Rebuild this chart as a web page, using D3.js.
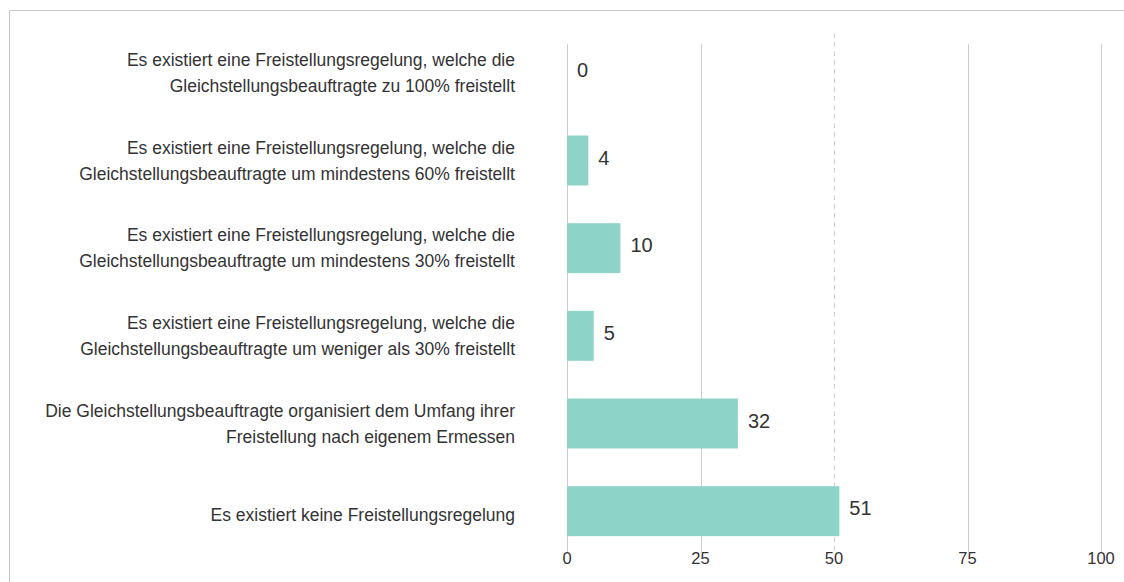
<!DOCTYPE html>
<html>
<head>
<meta charset="utf-8">
<script src="https://cdn.jsdelivr.net/npm/d3@7"></script>
<style>
  body { margin: 0; background: #fff; }
  text { font-family: "Liberation Sans", Arial, sans-serif; }
</style>
</head>
<body>
<div id="root"></div>
<script>
// categories (each entry is a list of label lines)
var categories = [
    ["Es existiert eine Freistellungsregelung, welche die", "Gleichstellungsbeauftragte zu 100% freistellt"],
    ["Es existiert eine Freistellungsregelung, welche die", "Gleichstellungsbeauftragte um mindestens 60% freistellt"],
    ["Es existiert eine Freistellungsregelung, welche die", "Gleichstellungsbeauftragte um mindestens 30% freistellt"],
    ["Es existiert eine Freistellungsregelung, welche die", "Gleichstellungsbeauftragte um weniger als 30% freistellt"],
    ["Die Gleichstellungsbeauftragte organisiert dem Umfang ihrer", "Freistellung nach eigenem Ermessen"],
    ["Es existiert keine Freistellungsregelung"]
];
var values = [0, 4, 10, 5, 32, 51];
var ticks = [0, 25, 50, 75, 100];

var width = 1124;
var height = 582;

var svg = d3.select("#root")
    .append("svg")
    .attr("width", width)
    .attr("height", height);

// frame lines (top and left)
svg.append("line")
    .attr("x1", 9.5).attr("x2", width)
    .attr("y1", 10.5).attr("y2", 10.5)
    .attr("stroke", "#c8c8c8");
svg.append("line")
    .attr("x1", 9.5).attr("x2", 9.5)
    .attr("y1", 10.5).attr("y2", height)
    .attr("stroke", "#c8c8c8");

var x = d3.scaleLinear()
    .domain([0, 100])
    .range([567, 1101]);

var y = d3.scaleBand()
    .domain(d3.range(categories.length))
    .range([29, 555])
    .paddingInner(0.43)
    .paddingOuter(0.215);

// grid lines
svg.append("g")
    .selectAll("line")
    .data(ticks)
    .join("line")
    .attr("x1", d => Math.round(x(d)) + 0.5)
    .attr("x2", d => Math.round(x(d)) + 0.5)
    .attr("y1", d => d === 50 ? 33 : 44)
    .attr("y2", 552)
    .attr("stroke", "#cccccc")
    .attr("stroke-width", 1)
    .attr("stroke-dasharray", d => d === 50 ? "5,4" : null);

// tick labels
svg.append("g")
    .selectAll("text")
    .data(ticks)
    .join("text")
    .attr("x", d => x(d))
    .attr("y", 564)
    .attr("text-anchor", "middle")
    .attr("font-size", 16.5)
    .attr("fill", "#333")
    .text(d => d);

// bars
svg.append("g")
    .selectAll("rect")
    .data(values)
    .join("rect")
    .attr("x", x(0))
    .attr("y", (d, i) => y(i))
    .attr("width", d => x(d) - x(0))
    .attr("height", y.bandwidth())
    .attr("fill", "#8dd3c7");

// value labels
svg.append("g")
    .selectAll("text")
    .data(values)
    .join("text")
    .attr("x", d => x(d) + 10)
    .attr("y", (d, i) => y(i) + y.bandwidth() / 2 - 3)
    .attr("dy", "0.35em")
    .attr("font-size", 20)
    .attr("fill", "#333")
    .text(d => d);

// category labels
var labels = svg.append("g")
    .selectAll("text")
    .data(categories)
    .join("text")
    .attr("text-anchor", "end")
    .attr("font-size", 17.5)
    .attr("fill", "#333")
    .attr("y", (d, i) => y(i) + y.bandwidth() / 2 - (d.length - 1) * 13 + (d.length === 1 ? 4 : 0));

labels.selectAll("tspan")
    .data(d => d)
    .join("tspan")
    .attr("x", 515)
    .attr("dy", (d, j) => j === 0 ? "0.35em" : 26)
    .text(d => d);
</script>
</body>
</html>
